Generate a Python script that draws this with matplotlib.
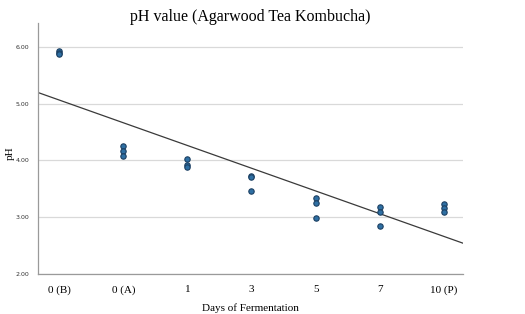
import numpy as np
import matplotlib
matplotlib.use('Agg')
import matplotlib.pyplot as plt

# дни ферментации и измеренные значения pH (по три повтора)
days = ['0 (B)', '0 (A)', '1', '3', '5', '7', '10 (P)']
ph_values = [
    [5.92, 5.90, 5.88],
    [4.26, 4.17, 4.08],
    [4.02, 3.92, 3.88],
    [3.73, 3.70, 3.47],
    [3.33, 3.25, 2.98],
    [3.18, 3.10, 2.85],
    [3.23, 3.17, 3.10],
]
y_ticks = [2.0, 3.0, 4.0, 5.0, 6.0]

fig = plt.figure(figsize=(5.25, 3.14), dpi=100)
ax = fig.add_axes([0.0724, 0.1274, 0.8096, 0.7994])

xs = []
ys = []
for i, vals in enumerate(ph_values):
    for v in vals:
        xs.append(i)
        ys.append(v)
xs = np.array(xs)
ys = np.array(ys)

ax.scatter(xs, ys, s=15, facecolor='#2e6fa3', edgecolor='#1b3f62', linewidth=0.8, zorder=3)

# линия тренда по всем точкам
k, b = np.polyfit(xs, ys, 1)
xl = np.array([-0.33, 6.3])
ax.plot(xl, k * xl + b, color='#3a3a3a', linewidth=0.9, zorder=2)

ax.set_xlim(-0.33, 6.3)
ax.set_ylim(2.0, 6.42)
ax.set_xticks(range(len(days)))
ax.set_xticklabels(days, fontfamily='Liberation Serif', fontsize=8)
ax.set_yticks(y_ticks)
ax.set_yticklabels(['%.2f' % t for t in y_ticks], fontfamily='DejaVu Sans', fontsize=4.5, color='#333333')
ax.tick_params(length=0, pad=8)
ax.tick_params(axis='y', pad=6)
ax.grid(axis='y', color='#d9d9d9', linewidth=0.9)
ax.set_axisbelow(True)
for s in ['top', 'right']:
    ax.spines[s].set_visible(False)
for s in ['left', 'bottom']:
    ax.spines[s].set_color('#9a9a9a')
    ax.spines[s].set_linewidth(0.9)

ax.set_xlabel('Days of Fermentation', fontfamily='Liberation Serif', fontsize=8, labelpad=6)
fig.text(10 / 525, 1 - 153 / 314, 'pH', fontfamily='Liberation Serif', fontsize=8,
         rotation=90, ha='center', va='center')
fig.text(0.477, 0.945, 'pH value (Agarwood Tea Kombucha)', fontfamily='Liberation Serif',
         fontsize=11.5, ha='center', va='center')

fig.savefig('out.png', dpi=100)
